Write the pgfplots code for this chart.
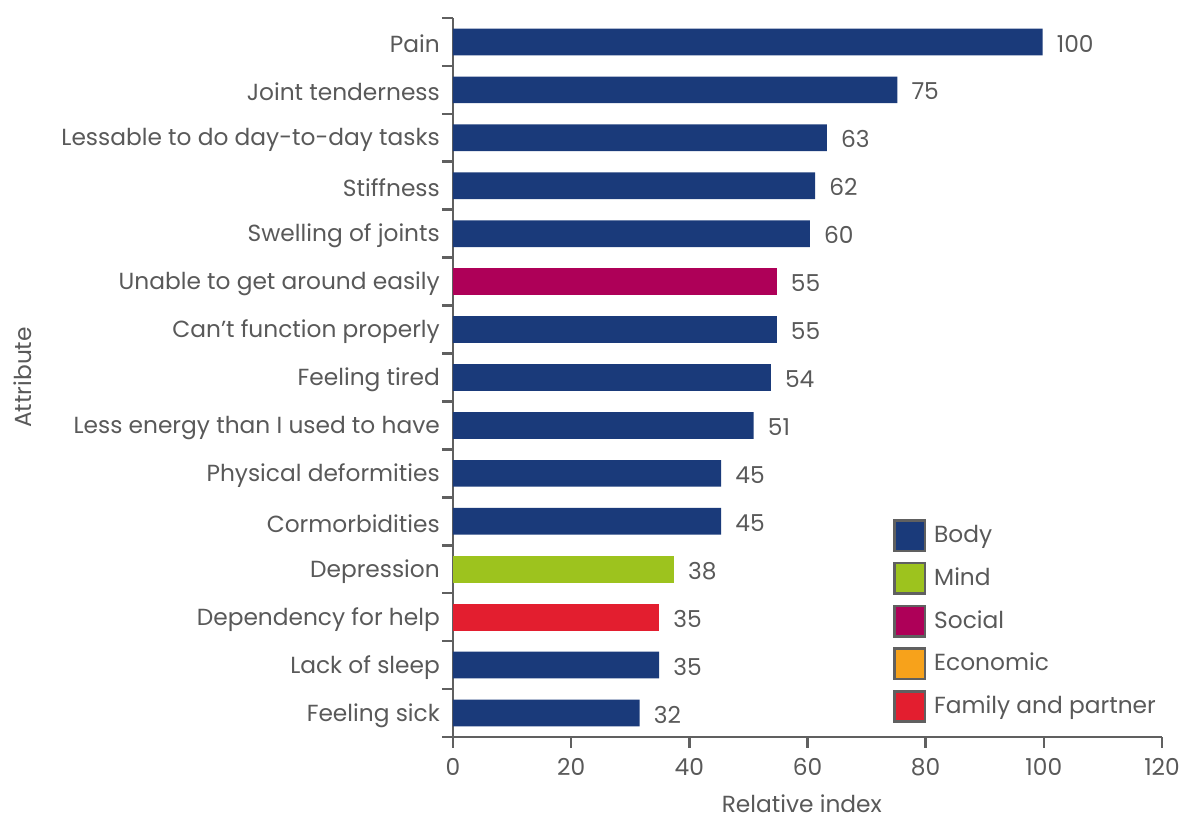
\documentclass[border=0pt]{standalone}
\usepackage{fontspec}
\setmainfont{Poppins}
\usepackage{pgfplots}
\pgfplotsset{compat=1.18}
\definecolor{body}{HTML}{1A3A7A}
\definecolor{mind}{HTML}{9DC31E}
\definecolor{social}{HTML}{AE0058}
\definecolor{econ}{HTML}{F7A21B}
\definecolor{family}{HTML}{E31E2F}
\definecolor{txt}{HTML}{595959}
\definecolor{axisgray}{HTML}{606060}
\begin{document}
\fontsize{23.3}{28}\selectfont\color{txt}%
\begin{tikzpicture}
\useasboundingbox (-453pt,-81pt) rectangle (731pt,737pt);
\begin{axis}[
  at={(0pt,0pt)}, anchor=south west,
  scale only axis, width=709pt, height=719pt,
  xmin=0, xmax=120, ymin=-0.5, ymax=14.5,
  xtick={0,20,...,120},
  ytick={-0.5,0.5,...,14.5},
  yticklabels={Feeling sick, Lack of sleep, Dependency for help, Depression, Cormorbidities, Physical deformities, Less energy than I used to have, Feeling tired, Can’t function properly, Unable to get around easily, Swelling of joints, Stiffness, Lessable to do day-to-day tasks, Joint tenderness, Pain, {}},
  yticklabel style={yshift=21.7pt, inner sep=0pt, xshift=-2pt},
  xticklabel style={inner sep=0pt, yshift=-10pt},
  /pgf/number format/assume math mode=true,
  axis x line*=bottom, axis y line*=left,
  axis line style={axisgray, line width=2.6pt, -},
  tick align=outside,
  major tick length=11pt,
  tick style={axisgray, line width=2.6pt},
  xlabel={Relative index},
  xlabel style={at={(axis description cs:0.492,-0.1045)}, anchor=base, inner sep=0pt, text depth=0pt},
  ylabel={Attribute},
  ylabel style={at={(axis description cs:-0.6065,0.5)}, anchor=center},
  clip=false,
  legend image code/.code={\draw[#1, draw=axisgray, line width=2.6pt] (1.3pt,-15.2pt) rectangle (31.7pt,15.2pt);},
  legend style={at={(axis description cs:0.6206,0.3032)}, anchor=north west, draw=none, fill=none, inner sep=0pt, row sep=9.7pt, column sep=8pt, nodes={inner sep=0pt, text=txt}},
  legend cell align=left,
  every node near coord/.append style={anchor=west, inner sep=0pt, xshift=14pt, yshift=-1.5pt, text=txt},
]
\addlegendimage{fill=body}
\addlegendentry{Body}
\addlegendimage{fill=mind}
\addlegendentry{Mind}
\addlegendimage{fill=social}
\addlegendentry{Social}
\addlegendimage{fill=econ}
\addlegendentry{Economic}
\addlegendimage{fill=family}
\addlegendentry{Family and partner}

\addplot[xbar, bar width=26.7pt, bar shift=0pt, fill=body, draw=none, forget plot,
  nodes near coords, point meta=explicit symbolic] coordinates {
  (99.8,14) [100]
  (75.2,13) [75]
  (63.3,12) [63]
  (61.3,11) [62]
  (60.4,10) [60]
  (54.8,8) [55]
  (53.8,7) [54]
  (50.9,6) [51]
  (45.4,5) [45]
  (45.4,4) [45]
  (34.9,1) [35]
  (31.6,0) [32]
};
\addplot[xbar, bar width=26.7pt, bar shift=0pt, fill=social, draw=none, forget plot,
  nodes near coords, point meta=explicit symbolic] coordinates {
  (54.8,9) [55]
};
\addplot[xbar, bar width=26.7pt, bar shift=0pt, fill=mind, draw=none, forget plot,
  nodes near coords, point meta=explicit symbolic] coordinates {
  (37.4,3) [38]
};
\addplot[xbar, bar width=26.7pt, bar shift=0pt, fill=family, draw=none, forget plot,
  nodes near coords, point meta=explicit symbolic] coordinates {
  (34.9,2) [35]
};
\end{axis}
\end{tikzpicture}
\end{document}
